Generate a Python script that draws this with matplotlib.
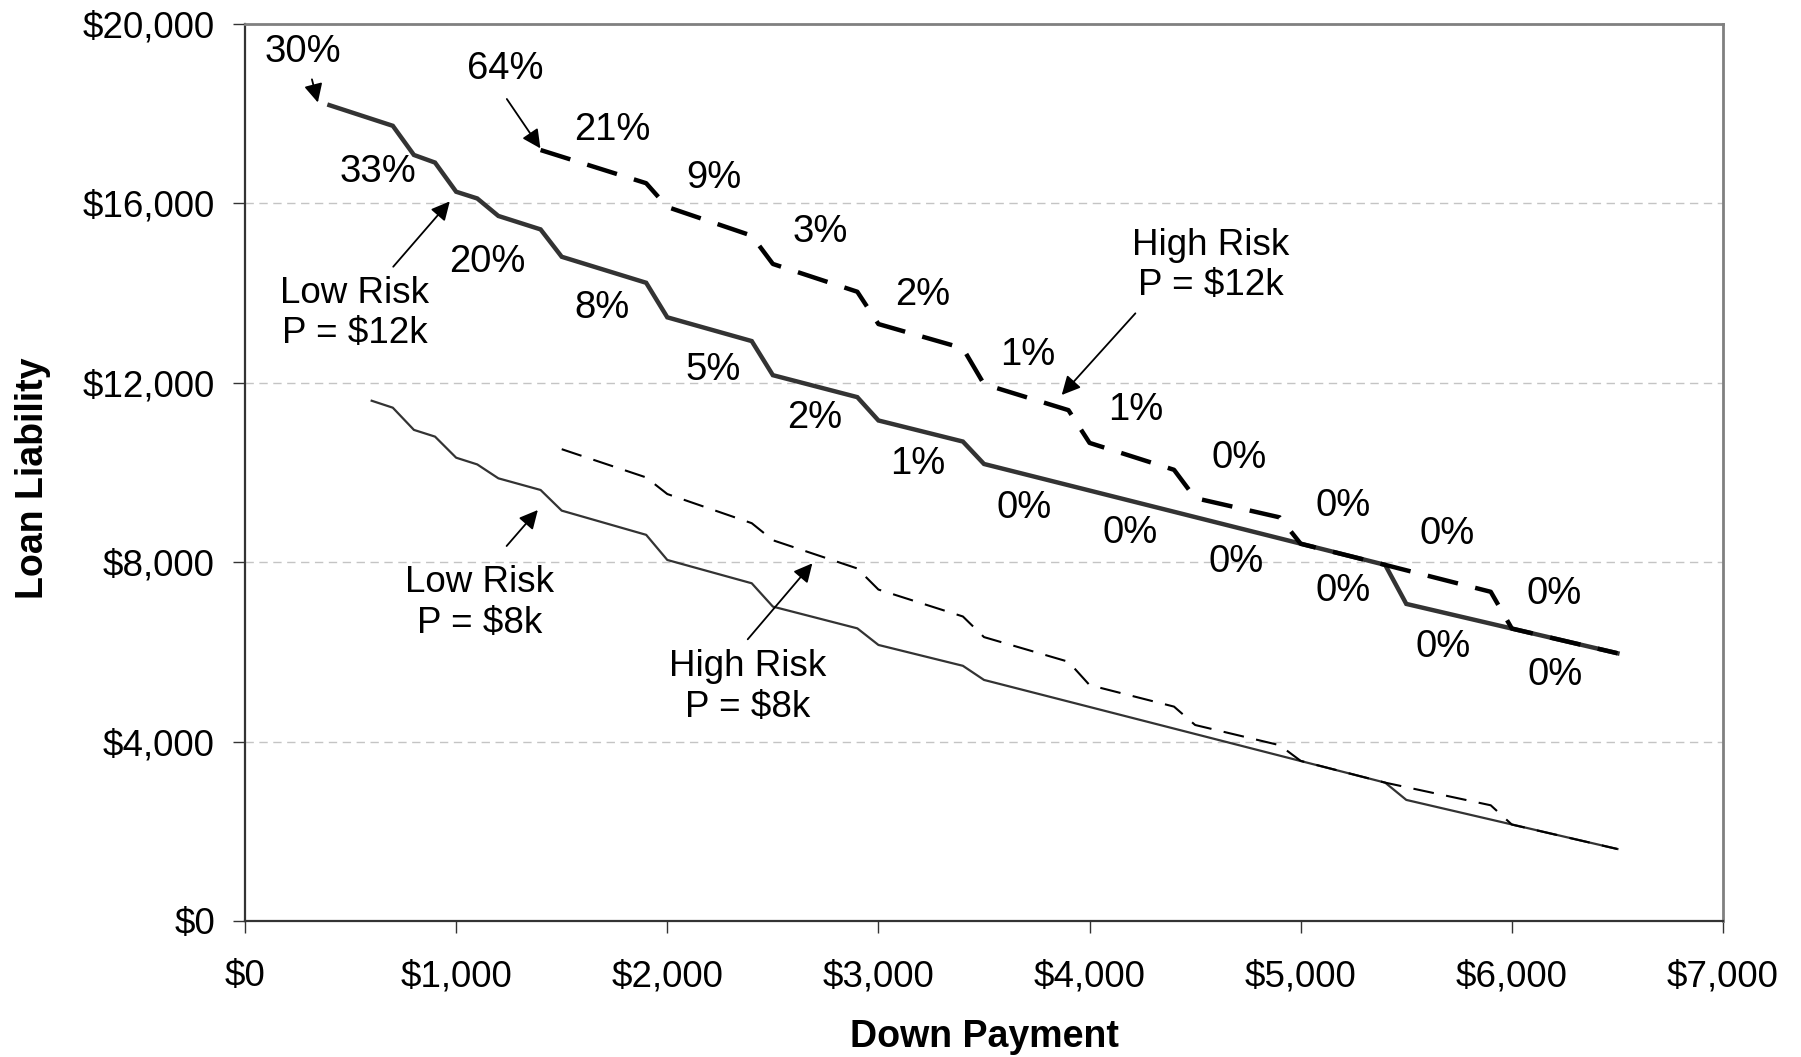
import matplotlib
matplotlib.use("Agg")
import matplotlib.pyplot as plt
from matplotlib.ticker import FuncFormatter

plt.rcParams['font.family'] = ['Liberation Sans', 'DejaVu Sans']

# ---- data ----
low12_x = [400, 700, 800, 900, 1000, 1100, 1200, 1400, 1500, 1900, 2000, 2400, 2500,
           2900, 3000, 3400, 3500, 5400, 5500, 6500]
low12_y = [18190, 17730, 17080, 16910, 16260, 16110, 15720, 15420, 14810, 14230, 13460,
           12930, 12170, 11680, 11160, 10690, 10190, 7940, 7070, 5970]

high12_x = [1400, 1900, 2000, 2400, 2500, 2900, 3000, 3400, 3500, 3900, 4000, 4400, 4500,
            4900, 5000, 5400, 5900, 6000, 6500]
high12_y = [17190, 16450, 15920, 15280, 14650, 14030, 13310, 12770, 11970, 11390, 10660,
            10060, 9430, 9000, 8410, 7940, 7340, 6520, 5970]

low8_x = [600, 700, 800, 900, 1000, 1100, 1200, 1400, 1500, 1900, 2000, 2400, 2500,
          2900, 3000, 3400, 3500, 5400, 5500, 6500]
low8_y = [11600, 11445, 10950, 10800, 10330, 10180, 9870, 9610, 9150, 8610, 8050,
          7530, 7010, 6525, 6155, 5690, 5375, 3085, 2700, 1605]

high8_x = [1500, 1900, 2000, 2400, 2500, 2900, 3000, 3400, 3500, 3900, 4000, 4400, 4500,
           4900, 5000, 5400, 5900, 6000, 6500]
high8_y = [10520, 9890, 9520, 8870, 8490, 7860, 7390, 6790, 6330, 5780, 5260, 4780, 4370,
           3920, 3570, 3085, 2580, 2150, 1605]

pct_labels = ["30%", "64%", "21%", "33%", "9%", "3%", "20%", "2%", "8%", "1%", "5%", "1%",
              "2%", "0%", "1%", "0%", "0%", "0%", "0%", "0%", "0%", "0%", "0%", "0%"]
pct_x = [272, 1232, 1740, 631, 2219, 2725, 1148, 3209, 1692, 3709, 2219, 4221,
         2698, 4710, 3187, 5200, 3688, 5694, 4193, 4694, 6200, 5200, 5673, 6206]
pct_y = [19385, 19005, 17644, 16696, 16568, 15365, 14699, 13956, 13674, 12625, 12292, 11396,
         11216, 10320, 10192, 9245, 9219, 8630, 8656, 8015, 7298, 7349, 6120, 5480]

# series name labels: text, text position, arrow start, arrow tip
name_labels = ["Low Risk\nP = $12k", "High Risk\nP = $12k", "Low Risk\nP = $8k", "High Risk\nP = $8k"]
name_xy = [(520, 13540), (4575, 14610), (1110, 7090), (2380, 5215)]
arrow_from = [(702, 14588), (4217, 13549), (1239, 8361), (2381, 6281),
              (317, 18766), (1240, 18328)]
arrow_to = [(970, 16045), (3868, 11728), (1387, 9164), (2687, 7975),
            (345, 18250), (1399, 17227)]

x_ticks = [0, 1000, 2000, 3000, 4000, 5000, 6000, 7000]
y_ticks = [0, 4000, 8000, 12000, 16000, 20000]

# ---- figure ----
fig = plt.figure(figsize=(18.01, 10.57), dpi=100)
ax = fig.add_axes([245 / 1801, 1 - 921 / 1057, (1723 - 245) / 1801, (921 - 24) / 1057])

ax.set_xlim(0, 7000)
ax.set_ylim(0, 20000)
ax.set_xticks(x_ticks)
ax.set_yticks(y_ticks)
fmt = FuncFormatter(lambda v, p: "$" + format(int(v), ","))
ax.xaxis.set_major_formatter(fmt)
ax.yaxis.set_major_formatter(fmt)

ax.yaxis.grid(True, color='#c4c4c4', linestyle=(0, (6, 4)), linewidth=1.0)
ax.set_axisbelow(True)

ax.tick_params(axis='both', direction='out', length=8.6, width=1.0, color='#333333',
               labelsize=26.5)
ax.tick_params(axis='x', pad=19)
ax.tick_params(axis='y', pad=13)

for s in ['top', 'right']:
    ax.spines[s].set_color('#808080')
    ax.spines[s].set_linewidth(2)
for s in ['left', 'bottom']:
    ax.spines[s].set_color('#333333')
    ax.spines[s].set_linewidth(1.6)

# lines
ax.plot(low12_x, low12_y, color='#333333', lw=3.2, solid_joinstyle='miter', zorder=3)
ax.plot(low8_x, low8_y, color='#333333', lw=1.6, zorder=3)
ax.plot(high12_x, high12_y, color='black', lw=3.2, dashes=(7, 4), zorder=4)
ax.plot(high8_x, high8_y, color='black', lw=1.5, dashes=(10, 6), zorder=4)

# percentage labels
for t, x, y in zip(pct_labels, pct_x, pct_y):
    ax.text(x, y, t, fontsize=27.5, ha='center', va='center', zorder=5)

for t, (x, y) in zip(name_labels, name_xy):
    ax.text(x, y, t, fontsize=26.5, ha='center', va='center', linespacing=1.2, zorder=5)

for (x0, y0), (x1, y1) in zip(arrow_from, arrow_to):
    ax.annotate("", xy=(x1, y1), xytext=(x0, y0),
                arrowprops=dict(arrowstyle='-|>', color='black', lw=1.3,
                                mutation_scale=28, shrinkA=0, shrinkB=0),
                zorder=6)

xl = ax.set_xlabel("Down Payment", fontsize=27, fontweight='bold')
yl = ax.set_ylabel("Loan Liability", fontsize=27, fontweight='bold')
xl.set_verticalalignment('center')
yl.set_verticalalignment('center')
ax.xaxis.set_label_coords(0.5, (921 - 1037) / 897)
ax.yaxis.set_label_coords((33 - 245) / 1478, (921 - 478) / 897)

fig.savefig("out.png", dpi=100)
